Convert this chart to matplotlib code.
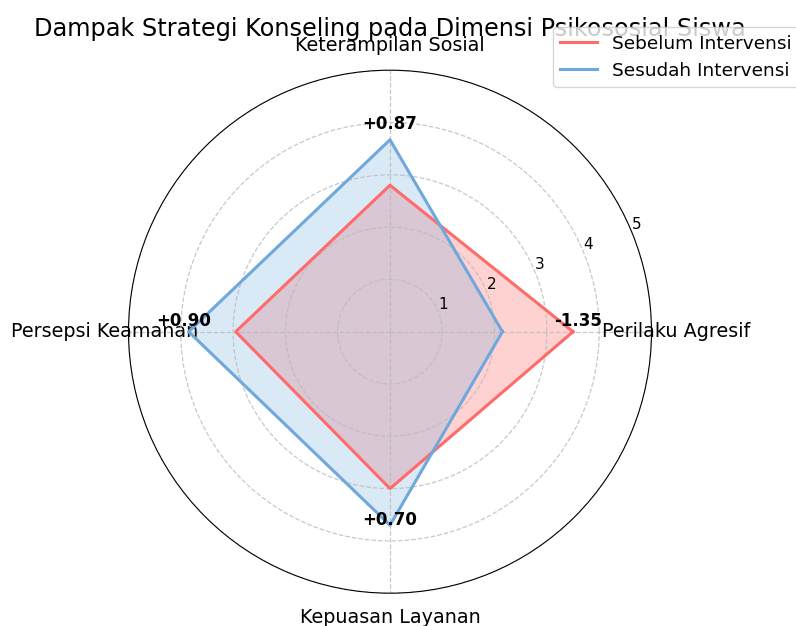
import numpy as np
import matplotlib
matplotlib.use("Agg")
import matplotlib.pyplot as plt

categories = ["Perilaku Agresif", "Keterampilan Sosial", "Persepsi Keamanan", "Kepuasan Layanan"]
sebelum = [3.5, 2.8, 2.95, 3.0]
sesudah = [2.15, 3.67, 3.85, 3.7]
radial_ticks = [1, 2, 3, 4, 5]
title = "Dampak Strategi Konseling pada Dimensi Psikososial Siswa"
legend_labels = ["Sebelum Intervensi", "Sesudah Intervensi"]

red = "#FF6B6B"
blue = "#6FA8DC"

n = len(categories)
angles = np.linspace(0, 2 * np.pi, n, endpoint=False).tolist()
angles_c = angles + angles[:1]
seb_c = sebelum + sebelum[:1]
ses_c = sesudah + sesudah[:1]

fig = plt.figure(figsize=(7.96, 6.26), dpi=100)
ax = fig.add_axes([128.5 / 796, 32.8 / 626, 523 / 796, 523 / 626], projection="polar")

ax.plot(angles_c, seb_c, color=red, linewidth=2.2, label=legend_labels[0])
ax.fill(angles_c, seb_c, color=red, alpha=0.3)
ax.plot(angles_c, ses_c, color=blue, linewidth=2.2, label=legend_labels[1])
ax.fill(angles_c, ses_c, color=blue, alpha=0.25)

ax.set_xticks(angles)
ax.set_xticklabels(categories, fontsize=13.8)
ax.set_ylim(0, 5)
ax.set_yticks(radial_ticks)
ax.set_yticklabels([str(t) for t in radial_ticks], fontsize=11)
ax.grid(True, linestyle="--", color="#bbbbbb", linewidth=0.9, alpha=0.8)
ax.tick_params(axis="x", pad=7)

for a, s0, s1 in zip(angles, sebelum, sesudah):
    d = s1 - s0
    ax.annotate(f"{d:+.2f}", xy=(a, max(s0, s1) + 0.1), xytext=(0, 7.5),
                textcoords="offset points", ha="center", va="center",
                fontsize=12, fontweight="bold")

ax.set_title(title, fontsize=17.3, y=1.05)
ax.legend(loc="upper right", bbox_to_anchor=(1.3, 1.1), fontsize=13.3)

fig.savefig("out.png", dpi=100)
